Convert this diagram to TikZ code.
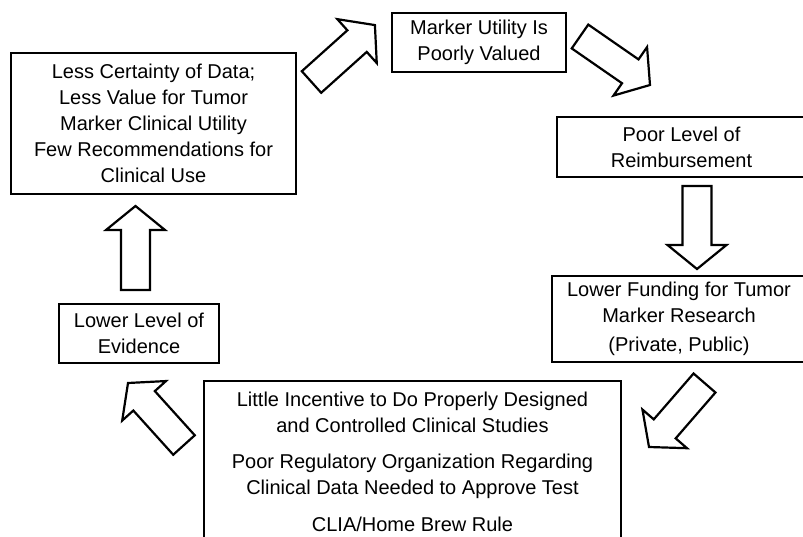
\documentclass[tikz,border=0pt]{standalone}
\usepackage{fontspec}
\setmainfont{Liberation Sans}
\usetikzlibrary{calc}

\tikzset{
  box/.style={draw, line width=2.2pt, align=center, inner sep=0pt,
              font=\fontsize{20}{26}\selectfont},
  hollow/.style={draw, line width=2.2pt, line join=miter, fill=white}
}

% hollow block arrow from a tail coordinate to a tip coordinate
\newcommand{\blockarrow}[2]{%
  \draw[hollow] let \p1=(#1), \p2=(#2),
      \n1={atan2(\y2-\y1,\x2-\x1)}, \n2={veclen(\x2-\x1,\y2-\y1)} in
    [shift={(\p1)}, rotate=\n1]
    (0pt,-14.5pt) -- ({\n2*1pt-24pt},-14.5pt) -- ({\n2*1pt-24pt},-29.5pt)
    -- ({\n2*1pt},0pt) -- ({\n2*1pt-24pt},29.5pt) -- ({\n2*1pt-24pt},14.5pt)
    -- (0pt,14.5pt) -- cycle;}

\begin{document}
\begin{tikzpicture}[x=1pt, y=-1pt]
  \path[use as bounding box, clip] (0,0) rectangle (803,536);
  \fill[white] (0,0) rectangle (803,536);

  % boxes of the cycle
  \node[box, minimum width=174pt, minimum height=59pt] (marker) at (479,42.5)
    {Marker Utility Is\\Poorly Valued};
  \node[box, minimum width=249pt, minimum height=60pt] (reimb) at (681.5,147)
    {Poor Level of\\Reimbursement};
  \node[box, minimum width=254pt, minimum height=86pt] (funding) at (679,319)
    {Lower Funding for Tumor\\Marker Research\\[3pt](Private, Public)};
  \node[box, minimum width=417pt, inner ysep=10.5pt, anchor=north] (incentive) at (412.5,380)
    {Little Incentive to Do Properly Designed\\and Controlled Clinical Studies\\[10.5pt]
     Poor Regulatory Organization Regarding\\Clinical Data Needed to Approve Test\\[10.5pt]
     CLIA/Home Brew Rule};
  \node[box, minimum width=160pt, minimum height=59pt] (evidence) at (139,333.5)
    {Lower Level of\\Evidence};
  \node[box, minimum width=285pt, minimum height=141pt] (certainty) at (153.5,123.5)
    {Less Certainty of Data;\\Less Value for Tumor\\Marker Clinical Utility\\
     Few Recommendations for\\Clinical Use};

  % ends of the block arrows
  \coordinate (aTail) at (311.5,82);  \coordinate (aTip) at (375,25);
  \coordinate (bTail) at (580,36.5);  \coordinate (bTip) at (650,85);
  \coordinate (cTail) at (697,186);   \coordinate (cTip) at (697,269);
  \coordinate (dTail) at (704.5,383); \coordinate (dTip) at (649,447);
  \coordinate (eTail) at (184,445);   \coordinate (eTip) at (128,383);
  \coordinate (fTail) at (135.5,290); \coordinate (fTip) at (135.5,206);

  \blockarrow{aTail}{aTip}
  \blockarrow{bTail}{bTip}
  \blockarrow{cTail}{cTip}
  \blockarrow{dTail}{dTip}
  \blockarrow{eTail}{eTip}
  \blockarrow{fTail}{fTip}
\end{tikzpicture}
\end{document}
